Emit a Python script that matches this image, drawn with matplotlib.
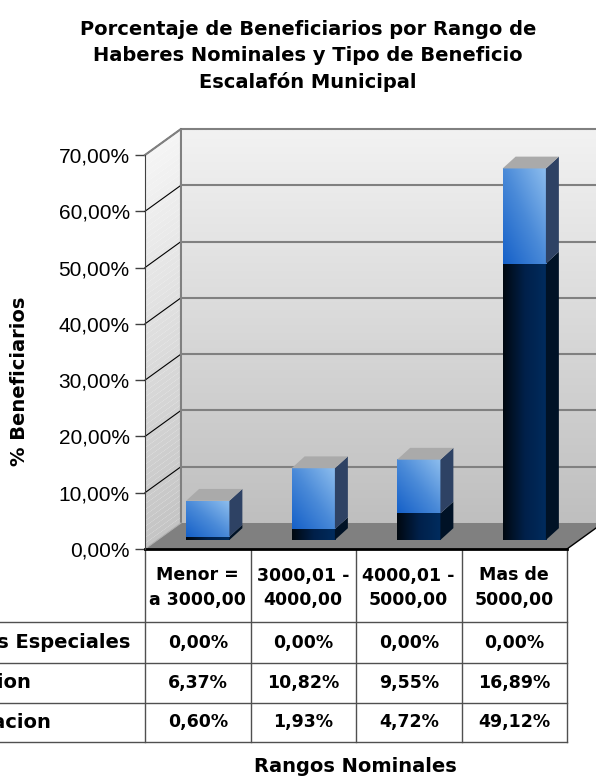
import numpy as np
import matplotlib.pyplot as plt
from matplotlib.patches import Polygon
from matplotlib.colors import to_rgb
from matplotlib import transforms

plt.rcParams['font.family'] = ['Liberation Sans', 'DejaVu Sans']

# datos
rangos = ["Menor =\na 3000,00", "3000,01 -\n4000,00", "4000,01 -\n5000,00", "Mas de\n5000,00"]
tipos = ["Pensiones Especiales", "Pension", "Jubilacion"]
especiales = [0.00, 0.00, 0.00, 0.00]
pension = [6.37, 10.82, 9.55, 16.89]
jubilacion = [0.60, 1.93, 4.72, 49.12]
yticks = [0, 10, 20, 30, 40, 50, 60, 70]


def pct(v):
    return ("%.2f%%" % v).replace('.', ',')


W, H = 596, 776
BOLD = dict(family='DejaVu Sans', fontweight='bold')
fig = plt.figure(figsize=(W / 100, H / 100), dpi=100)
ax = fig.add_axes([145 / W, 1 - 549 / H, 422 / W, 394 / H])

DX, DY = 0.341, 4.62     # profundidad de las paredes (unidades de datos)
BX, BY = 0.095, 1.6      # plano de las barras
BW = 0.41                # ancho barra
BDX, BDY = 0.123, 2.1    # profundidad barra


def grad(x0, x1, y0, y1, stops, mode, z):
    n = 64
    u = np.linspace(0, 1, n)
    if mode == 'v':
        t = np.tile(u[:, None], (1, n))
    elif mode == 'h':
        t = np.tile(u[None, :], (n, 1))
    else:
        t = (u[None, :] + u[:, None]) / 2
    pos = np.linspace(0, 1, len(stops))
    cols = np.array([to_rgb(c) for c in stops])
    img = np.dstack([np.interp(t, pos, cols[:, k]) for k in range(3)])
    ax.imshow(img, extent=(x0, x1, y0, y1), origin='lower', aspect='auto',
              interpolation='bilinear', zorder=z, clip_on=False)


def poly(pts, color, z, **kw):
    ax.add_patch(Polygon(pts, closed=True, facecolor=color, zorder=z,
                         clip_on=False, **kw))


# pared del fondo
grad(-0.5 + DX, 3.5 + DX, DY, 70 + DY, ['#bfbfbf', '#d9d9d9', '#f2f2f2'], 'v', 1)

# pared lateral en franjas
lev = np.linspace(0, 70, 71)
for k in range(70):
    g = 0.77 + 0.19 * (k / 69)
    poly([(-0.5, lev[k]), (-0.5 + DX, lev[k] + DY), (-0.5 + DX, lev[k + 1] + DY),
          (-0.5, lev[k + 1])], (g, g, g), 1, lw=0)

for v in yticks[1:]:
    ax.plot([-0.5 + DX, 3.5 + DX], [v + DY, v + DY], color='#808080', lw=1.5,
            zorder=2, clip_on=False)
    ax.plot([-0.5, -0.5 + DX], [v, v + DY], color='black', lw=0.8,
            zorder=2, clip_on=False)
ax.plot([-0.5, -0.5 + DX, -0.5 + DX], [70, 70 + DY, DY], color='#808080',
        lw=1.5, zorder=2, clip_on=False)

# piso
poly([(-0.5, 0), (3.5, 0), (3.5 + DX, DY), (-0.5 + DX, DY)], '#808080', 3, lw=0)
ax.plot([-0.5, -0.5 + DX], [0, DY], color='#b0b0b0', lw=0.8, zorder=3, clip_on=False)
ax.plot([3.5, 3.5 + DX], [0, DY], color='black', lw=1, zorder=3, clip_on=False)

# barras apiladas
for i in range(len(rangos)):
    x0 = i - BW / 2 + BX
    x1 = i + BW / 2 + BX
    base = BY
    for val, front, side, mode in [
            (jubilacion[i], ['#000810', '#00204a', '#002c5e'], '#001226', 'h'),
            (pension[i], ['#1560c8', '#4a8ad8', '#8ebeee'], '#2e4264', 'd'),
            (especiales[i], ['#9a9a9a', '#c0c0c0'], '#707070', 'v')]:
        if val <= 0:
            continue
        grad(x0, x1, base, base + val, front, mode, 5)
        poly([(x1, base), (x1 + BDX, base + BDY), (x1 + BDX, base + val + BDY),
              (x1, base + val)], side, 5, lw=0)
        base += val
    poly([(x0, base), (x1, base), (x1 + BDX, base + BDY), (x0 + BDX, base + BDY)],
         '#aaaaaa', 6, lw=0)

ax.plot([-0.5, 3.5], [0, 0], color='black', lw=2, zorder=7, clip_on=False)

ax.set_xlim(-0.5, 3.5)
ax.set_ylim(0, 70)
ax.set_facecolor('none')
for s in ['top', 'right', 'bottom']:
    ax.spines[s].set_visible(False)
ax.spines['left'].set_color('#404040')
ax.spines['left'].set_zorder(8)
ax.set_xticks([])
ax.set_yticks(yticks)
ax.set_yticklabels([pct(v) for v in yticks])
ax.tick_params(axis='y', direction='out', length=7, width=1, color='#404040',
               labelsize=15, pad=4)

# titulo y etiquetas
fig.text(308 / W, 1 - 56 / H,
         "Porcentaje de Beneficiarios por Rango de\nHaberes Nominales y Tipo de Beneficio\nEscalafón Municipal",
         ha='center', va='center', fontsize=14, linespacing=1.45, **BOLD)
fig.text(20 / W, 1 - 381 / H, "% Beneficiarios", rotation=90, ha='center',
         va='center', fontsize=14, **BOLD)
fig.text(355 / W, 1 - 767 / H, "Rangos Nominales", ha='center', va='center',
         fontsize=14, **BOLD)

# tabla de datos
blend = transforms.blended_transform_factory(ax.transData, fig.transFigure)


def fy(px):
    return 1 - px / H


for p in [622, 663, 703, 742]:
    ax.plot([-2.0, 3.5], [fy(p), fy(p)], transform=blend, color='#505050', lw=1,
            clip_on=False)
for xb in np.arange(len(rangos) + 1) - 0.5:
    ax.plot([xb, xb], [fy(549), fy(742)], transform=blend, color='#505050', lw=1,
            clip_on=False)

for i, r in enumerate(rangos):
    ax.text(i, fy(588), r, transform=blend, ha='center', va='center',
            fontsize=12.5, linespacing=1.5, **BOLD)

filas = [especiales, pension, jubilacion]
fila_y = [643, 683, 722]
fila_x = [130, 31, 51]
for serie, nombre, py, px in zip(filas, tipos, fila_y, fila_x):
    fig.text(px / W, fy(py), nombre, ha='right', va='center', fontsize=14, **BOLD)
    for i, v in enumerate(serie):
        ax.text(i, fy(py), pct(v), transform=blend, ha='center', va='center',
                fontsize=12.5, **BOLD)

fig.savefig('out.png', dpi=100)
